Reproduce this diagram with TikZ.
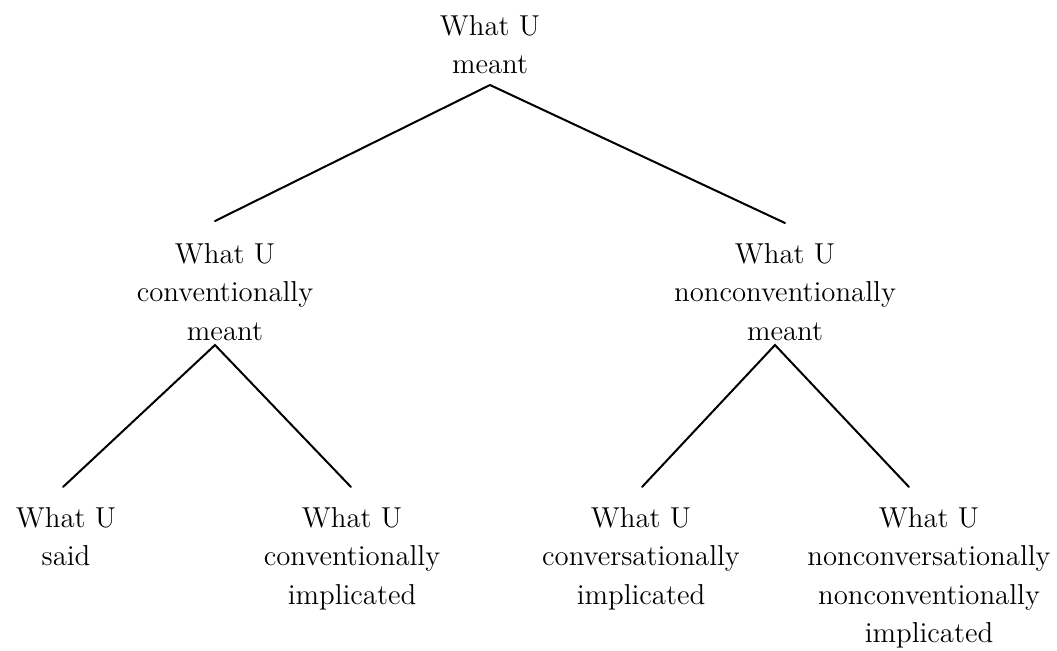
\documentclass[tikz,border=0pt]{standalone}
\begin{document}
\begin{tikzpicture}[x=0.5pt,y=-0.5pt,
  lbl/.style={anchor=north, align=center, inner sep=0pt,
    font=\fontsize{14.4}{19.25}\selectfont},
  branch/.style={line width=1pt, line cap=round}]
\useasboundingbox (0,0) rectangle (1057,650);
% nodes (north = first baseline - 20px)
\node[lbl] (root) at (490,15) {What U\\meant};
\node[lbl] (conv) at (225,243) {What U\\conventionally\\meant};
\node[lbl] (nonconv) at (785,243) {What U\\nonconventionally\\meant};
\node[lbl] (said) at (66,507) {What U\\said};
\node[lbl] (convimp) at (352,507) {What U\\conventionally\\implicated};
\node[lbl] (conversimp) at (641,507) {What U\\conversationally\\implicated};
\node[lbl] (nonnon) at (929,507) {What U\\nonconversationally\\nonconventionally\\implicated};
% connector ends
\coordinate (rootapex) at (490,85);
\coordinate (convtop) at (215,221);
\coordinate (nonconvtop) at (785,223);
\coordinate (convapex) at (215,345);
\coordinate (saidtop) at (63,487);
\coordinate (convimptop) at (351,487);
\coordinate (nonconvapex) at (775,345);
\coordinate (conversimptop) at (642,487);
\coordinate (nonnontop) at (909,487);
% connectors
\draw[branch] (convtop) -- (rootapex) -- (nonconvtop);
\draw[branch] (saidtop) -- (convapex) -- (convimptop);
\draw[branch] (conversimptop) -- (nonconvapex) -- (nonnontop);
\end{tikzpicture}
\end{document}
